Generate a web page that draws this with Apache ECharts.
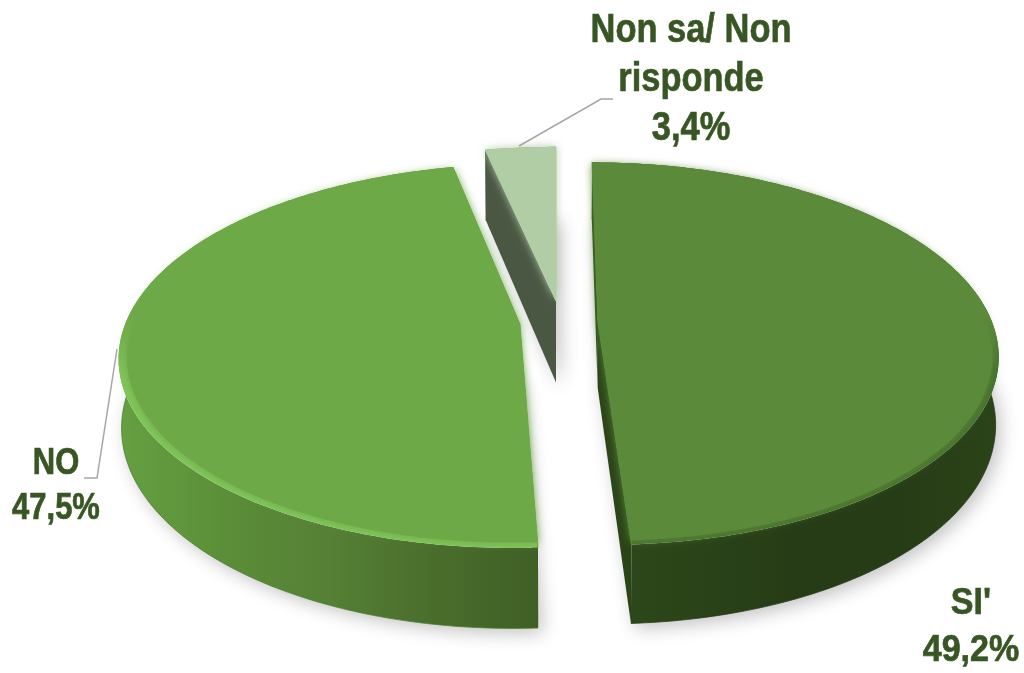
<!DOCTYPE html>
<html>
<head>
<meta charset="utf-8">
<style>
  html, body { margin: 0; padding: 0; background: #fff; }
  #main { width: 1024px; height: 673px; }
</style>
<script src="https://cdn.jsdelivr.net/npm/echarts@6/dist/echarts.min.js"></script>
</head>
<body>
<div id="main"></div>
<script>
const categories = ["SI'", 'NO', 'Non sa/ Non\nrisponde'];
const values = [49.2, 47.5, 3.4];

// perspective of the disk: vanishing x, apex y, radii, strength
const VX = 556, VY = 322, RX = 394, RY = 186, K = 0.165, BOTTOM_SCALE = 0.993;

const looks = [
  { offset: [0.1066, 0], depth: 66, face: '#5b8a3a', rim: '#45702b', inset: 0.985, cut: '#2a4417', edge: '#26391a',
    wall: ['#2e4a1a', '#2a4318', '#263c16', '#263c16', '#2b4318'] },
  { offset: [-0.0914, 0.012], depth: 67, face: '#6ea948', rim: '#80c65a', inset: 0.98, cut: '#3f5f27', edge: '#4a7a2c',
    wall: ['#66a042', '#5b8e38', '#558035', '#4a6d2c', '#3f5f25'] },
  { offset: [0, -0.115], depth: 83, face: '#b0cda6', rim: '#b0cda6', inset: 1, cut: '#4a5743', edge: '#4a5743',
    wall: ['#4a5743', '#4a5743', '#4a5743', '#4a5743', '#4a5743'] }
];

const labels = [
  { x: 971, y: 627, fontSize: 37, scaleX: 0.92, lineHeight: 47, leader: null },
  { x: 56, y: 487, fontSize: 36, scaleX: 0.86, lineHeight: 45, leader: [[117, 349], [97, 478], [84, 478]] },
  { x: 691, y: 80, fontSize: 41, scaleX: 0.84, lineHeight: 49, leader: [[519, 146], [601, 99], [613, 99]] }
];

const total = values.reduce((a, b) => a + b, 0);
const formatPct = v => v.toFixed(1).replace('.', ',') + '%';

function angles(i) {
  const before = values.slice(0, i).reduce((a, b) => a + b, 0);
  return [before / total * Math.PI * 2, (before + values[i]) / total * Math.PI * 2];
}

// point on the disk -> screen, lower means on the bottom face
function project(look, r, t, lower) {
  const X = look.offset[0] + r * Math.sin(t);
  const Y = look.offset[1] - r * Math.cos(t);
  const s = 1 / (1 - K * Y);
  const f = lower ? BOTTOM_SCALE : 1;
  return [VX + RX * X * s * f, VY + RY * Y * s + (lower ? look.depth * s : 0)];
}

function arc(look, r, a0, a1, lower) {
  const pts = [];
  const n = Math.max(2, Math.ceil((a1 - a0) / 0.015));
  for (let j = 0; j <= n; j++) {
    pts.push(project(look, r, a0 + (a1 - a0) * j / n, lower));
  }
  return pts;
}

function renderShadow(params) {
  const i = params.dataIndex;
  const look = looks[i];
  const [a0, a1] = angles(i);
  return {
    type: 'polygon',
    shape: { points: [project(look, 0, 0, true)].concat(arc(look, 1, a0, a1, true)) },
    style: {
      fill: '#fff',
      shadowColor: 'rgba(0,0,0,0.24)',
      shadowBlur: 18,
      shadowOffsetX: 5,
      shadowOffsetY: 5
    }
  };
}

function renderSlice(params) {
  const i = params.dataIndex;
  const look = looks[i];
  const [a0, a1] = angles(i);
  const apexTop = project(look, 0, 0, false);
  const apexLow = project(look, 0, 0, true);
  const rimTop = arc(look, 1, a0, a1, false);
  const rimLow = arc(look, 1, a0, a1, true);
  const cutQuad = (a) => [apexTop, project(look, 1, a, false), project(look, 1, a, true), apexLow];
  const wallFill = new echarts.graphic.LinearGradient(0, 0, 1, 0, look.wall.map((color, j) => ({
    offset: j / (look.wall.length - 1),
    color
  })));
  // the bevel only catches light on the near half of the rim
  const rimFill = new echarts.graphic.LinearGradient(0, 0, 0, 1, [
    { offset: 0, color: look.face },
    { offset: 0.4, color: look.face },
    { offset: 0.55, color: look.rim },
    { offset: 1, color: look.rim }
  ]);
  const children = [
    { type: 'polygon', shape: { points: cutQuad(a0) }, style: { fill: look.cut } },
    { type: 'polygon', shape: { points: cutQuad(a1) }, style: { fill: look.cut } },
    { type: 'polygon', shape: { points: rimTop.concat(rimLow.slice().reverse()) }, style: { fill: wallFill } },
    { type: 'polyline', shape: { points: rimLow }, style: { stroke: look.edge, lineWidth: 0.8, fill: 'none' } },
    { type: 'polygon', shape: { points: [apexTop].concat(rimTop) }, style: { fill: rimFill } },
    { type: 'polygon', shape: { points: [apexTop].concat(arc(look, look.inset, a0, a1, false)) },
      style: { fill: look.face, shadowColor: look.face, shadowBlur: 8 } },
    // the blur must not spill over the cut edges
    { type: 'polyline', shape: { points: [project(look, 1, a0, false), apexTop, project(look, 1, a1, false)] },
      style: { stroke: look.face, lineWidth: 1, fill: 'none' } }
  ];
  return { type: 'group', children };
}

function renderLabel(params) {
  const i = params.dataIndex;
  const lab = labels[i];
  const children = [{
    type: 'text',
    x: lab.x,
    y: lab.y,
    scaleX: lab.scaleX,
    style: {
      text: categories[i] + '\n' + formatPct(values[i]),
      x: 0,
      y: 0,
      align: 'center',
      verticalAlign: 'middle',
      lineHeight: lab.lineHeight,
      fill: '#375623',
      stroke: '#375623',
      lineWidth: 0.7,
      font: 'bold ' + lab.fontSize + 'px "Liberation Sans", Arial, sans-serif'
    }
  }];
  if (lab.leader) {
    children.push({
      type: 'polyline',
      shape: { points: lab.leader },
      style: { stroke: '#a6a6a6', lineWidth: 1.5, fill: 'none' }
    });
  }
  return { type: 'group', children };
}

const chart = echarts.init(document.getElementById('main'));
chart.setOption({
  animation: false,
  backgroundColor: '#fff',
  series: [
    { type: 'custom', coordinateSystem: 'none', z: 1, silent: true, data: values, renderItem: renderShadow },
    { type: 'custom', coordinateSystem: 'none', z: 2, silent: true, data: values, renderItem: renderSlice },
    { type: 'custom', coordinateSystem: 'none', z: 3, silent: true, data: values, renderItem: renderLabel }
  ]
});
</script>
</body>
</html>
